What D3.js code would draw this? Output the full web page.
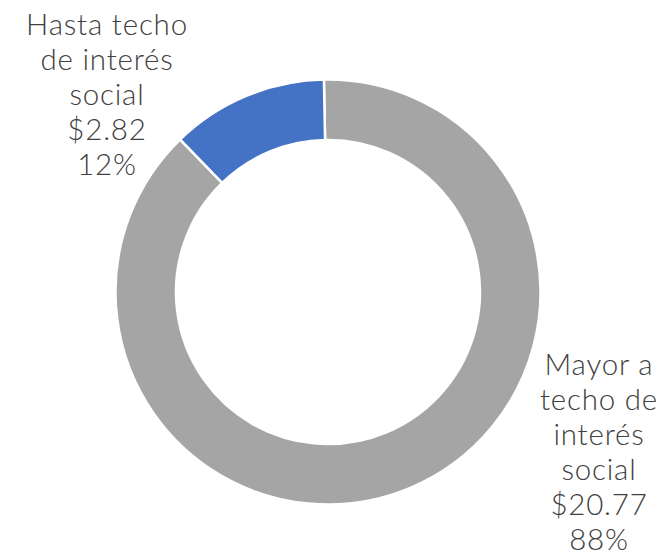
<!DOCTYPE html>
<html><head><meta charset="utf-8">
<script src="https://cdn.jsdelivr.net/npm/d3@7"></script>
<style>body{margin:0;background:#fff}svg{display:block}</style>
</head><body>
<svg id="c" width="662" height="556"></svg>
<script>
const categories = ["Mayor a techo de interés social", "Hasta techo de interés social"];
const values = [20.77, 2.82];
const percents = ["88%", "12%"];
const colors = ["#A5A5A5", "#4472C4"];
const labelLines = [
  ["Mayor a", "techo de", "interés", "social", "$20.77", "88%"],
  ["Hasta techo", "de interés", "social", "$2.82", "12%"]
];

const svg = d3.select("#c");
const cx = 328, cy = 292, R = 212.5, r = 152;
const g = svg.append("g").attr("transform", `translate(${cx},${cy})`);
const off = -1.1 * Math.PI / 180;
const pie = d3.pie().sort(null).startAngle(off).endAngle(2 * Math.PI + off);
const arc = d3.arc().innerRadius(r).outerRadius(R);
const data = values.map((v, i) => ({v, i}));
g.selectAll("path").data(pie.value(d => d.v)(data)).join("path")
  .attr("d", arc)
  .attr("fill", d => colors[d.data.i])
  .attr("stroke", "#fff").attr("stroke-width", 2.5);

const labelPos = [{x: 599, y: 375}, {x: 107, y: 35}];
const lh = 35;
labelLines.forEach((lines, i) => {
  const t = svg.append("text")
    .attr("text-anchor", "middle")
    .attr("font-family", "Lato, 'Open Sans', sans-serif")
    .attr("font-weight", 300)
    .attr("font-size", 29.5)
    .attr("letter-spacing", 0.8)
    .attr("fill", "#404040");
  lines.forEach((s, j) => {
    t.append("tspan").attr("x", labelPos[i].x).attr("y", labelPos[i].y + j * lh).text(s);
  });
});
</script>
</body></html>
